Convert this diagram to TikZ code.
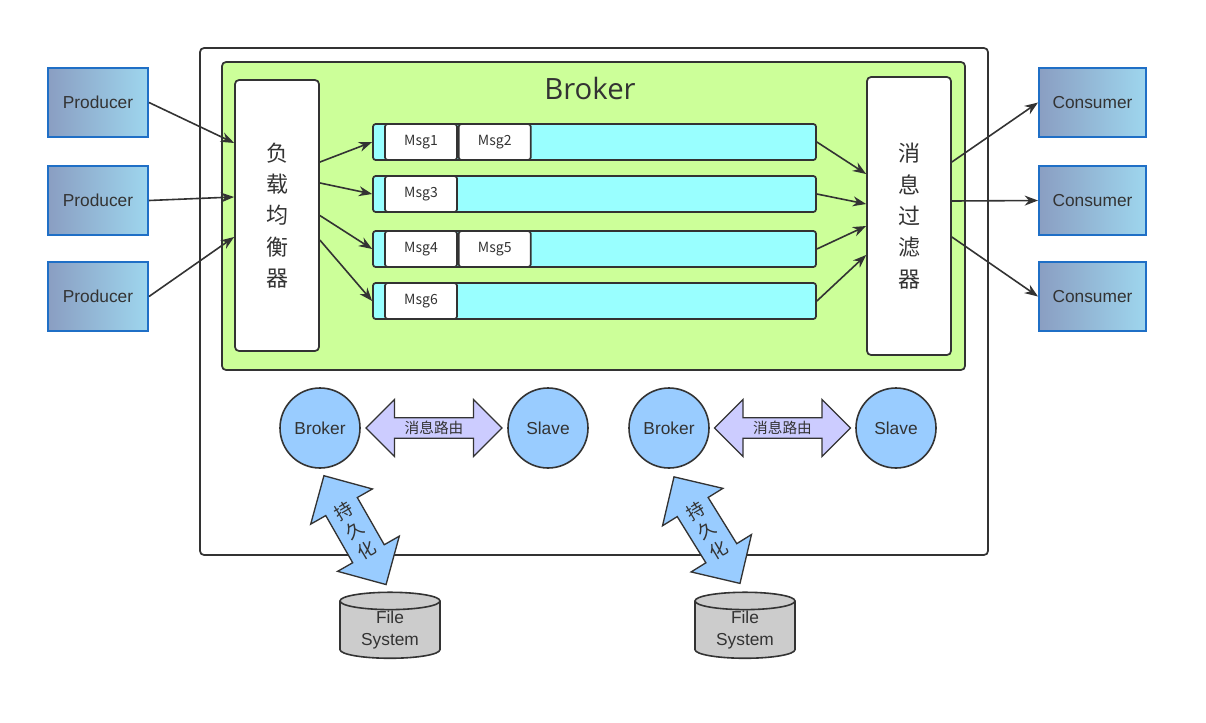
\documentclass[tikz,border=0pt]{standalone}
\usepackage{fontspec}
\setmainfont{Liberation Sans}
\newfontfamily\cjk{Noto Sans CJK SC}
\newfontfamily\titlefont{Open Sans}
\usetikzlibrary{arrows.meta,positioning,shapes.geometric,shapes.arrows,calc}

\definecolor{edge}{HTML}{333333}
\definecolor{brokergreen}{HTML}{CCFF99}
\definecolor{queuecyan}{HTML}{99FFFF}
\definecolor{peerblue}{HTML}{99CCFF}
\definecolor{routeviolet}{HTML}{CCCCFF}
\definecolor{diskgray}{HTML}{CCCCCC}
\definecolor{clientline}{HTML}{1F6FC6}
\definecolor{clientleft}{HTML}{8A9EC2}
\definecolor{clientright}{HTML}{9ED6EE}

\tikzset{
  client/.style={draw=clientline, line width=1.5pt, left color=clientleft, right color=clientright,
    minimum height=51.75pt, inner sep=0pt, text=edge, font=\fontsize{13}{15}\selectfont},
  producer/.style={client, minimum width=75pt},
  consumer/.style={client, minimum width=80.25pt},
  panel/.style={draw=edge, line width=1.3pt, fill=white, rounded corners=3pt, minimum width=63pt,
    inner sep=0pt, align=center, text=edge, font=\cjk\fontsize{16.5}{23.5}\selectfont},
  queue/.style={draw=edge, line width=1.3pt, fill=queuecyan, rounded corners=2pt,
    minimum width=332.25pt, minimum height=27pt, inner sep=0pt},
  msg/.style={draw=edge, line width=1.3pt, fill=white, rounded corners=2pt,
    minimum width=54pt, minimum height=27pt, inner sep=0pt, text=edge, font=\cjk\fontsize{10.5}{12}\selectfont},
  peer/.style={circle, draw=edge, line width=1.2pt, fill=peerblue, minimum size=60pt, inner sep=0pt,
    text=edge, font=\fontsize{13}{15}\selectfont},
  route/.style={double arrow, draw=edge, line width=1pt, fill=routeviolet, minimum height=102pt,
    minimum width=42.75pt, double arrow head extend=10.1pt, inner sep=0pt, text=edge,
    font=\cjk\fontsize{11}{13}\selectfont},
  persist/.style={double arrow, draw=edge, line width=1pt, fill=peerblue, minimum height=94pt,
    minimum width=52.5pt, double arrow head extend=13pt, inner sep=0pt},
  store/.style={cylinder, shape border rotate=90, aspect=0.3, draw=edge, line width=1.2pt, fill=diskgray,
    minimum width=75pt, minimum height=49.5pt, inner sep=0pt, align=center, text=edge,
    font=\fontsize{13}{17}\selectfont},
  flow/.style={draw=edge, line width=1.2pt, -{Stealth[length=10pt,width=7.5pt]}}
}

\begin{document}
\begin{tikzpicture}[x=0.75pt,y=-0.75pt]
  \useasboundingbox (0,0) rectangle (1206,722);

  %%  Frames  %%%%%%%%
  \draw[edge, line width=1.3pt, fill=white, rounded corners=3pt] (200,48) rectangle (988,555);
  \draw[edge, line width=1.3pt, fill=brokergreen, rounded corners=3pt] (222,62) rectangle (965,370);
  \node[text=edge, font=\titlefont\fontsize{22}{26}\selectfont] (title) at (590,88) {Broker};

  %%  Clients  %%%%%%%%
  \node[producer] (p1) at (98,102.5) {Producer};
  \node[producer] (p2) at (98,200.5) {Producer};
  \node[producer] (p3) at (98,296.5) {Producer};
  \node[consumer] (c1) at (1092.5,102.5) {Consumer};
  \node[consumer] (c2) at (1092.5,200.5) {Consumer};
  \node[consumer] (c3) at (1092.5,296.5) {Consumer};

  %%  Balancer and filter  %%%%%%%%
  \node[panel, minimum height=203.25pt] (lb) at (277,215.5) {负\\载\\均\\衡\\器};
  \node[panel, minimum height=208.5pt] (mf) at (909,216) {消\\息\\过\\滤\\器};

  %%  Queues  %%%%%%%%
  \node[queue] (q1) at (594.5,142) {};
  \node[queue] (q2) at (594.5,194) {};
  \node[queue] (q3) at (594.5,249) {};
  \node[queue] (q4) at (594.5,301) {};
  \node[msg] (m1) at (421,142) {Msg1};
  \node[msg, right=0pt of m1] (m2) {Msg2};
  \node[msg] (m3) at (421,194) {Msg3};
  \node[msg] (m4) at (421,249) {Msg4};
  \node[msg, right=0pt of m4] (m5) {Msg5};
  \node[msg] (m6) at (421,301) {Msg6};

  %%  Arrows  %%%%%%%%
  \draw[flow] (p1.east) -- ([yshift=54.4pt]lb.west);
  \draw[flow] (p2.east) -- ([yshift=13.9pt]lb.west);
  \draw[flow] (p3.east) -- ([yshift=-16.1pt]lb.west);
  \draw[flow] ([yshift=40.1pt]lb.east) -- (q1.west);
  \draw[flow] ([yshift=24.4pt]lb.east) -- (q2.west);
  \draw[flow] (lb.east) -- (q3.west);
  \draw[flow] ([yshift=-18.4pt]lb.east) -- (q4.west);
  \draw[flow] (q1.east) -- ([yshift=31.5pt]mf.west);
  \draw[flow] (q2.east) -- ([yshift=9pt]mf.west);
  \draw[flow] (q3.east) -- ([yshift=-7.5pt]mf.west);
  \draw[flow] (q4.east) -- ([yshift=-29.25pt]mf.west);
  \draw[flow] ([yshift=40.5pt]mf.east) -- (c1.west);
  \draw[flow] ([yshift=11.25pt]mf.east) -- (c2.west);
  \draw[flow] ([yshift=-15.75pt]mf.east) -- (c3.west);

  %%  Master / slave  %%%%%%%%
  \node[peer] (b1) at (320,428) {Broker};
  \node[peer] (s1) at (548,428) {Slave};
  \node[peer] (b2) at (669,428) {Broker};
  \node[peer] (s2) at (896,428) {Slave};
  \node[route] (r1) at ($(b1)!0.5!(s1)$) {消息路由};
  \node[route] (r2) at ($(b2)!0.5!(s2)$) {消息路由};

  %%  Storage  %%%%%%%%
  \node[store] (fs1) at (390,630) {File\\System};
  \node[store] (fs2) at (745,630) {File\\System};
  \path (b1.south) -- (fs1.north) node[persist, midway, sloped] (d1) {\rule{0pt}{26.25pt}};
  \path (b2.south) -- (fs2.north) node[persist, midway, sloped] (d2) {\rule{0pt}{26.25pt}};
  \node[rotate=31, align=center, inner sep=0pt, text=edge, font=\cjk\fontsize{13.5}{17}\selectfont] (t1) at (d1) {持\\久\\化};
  \node[rotate=31, align=center, inner sep=0pt, text=edge, font=\cjk\fontsize{13.5}{17}\selectfont] (t2) at (d2) {持\\久\\化};
\end{tikzpicture}
\end{document}
